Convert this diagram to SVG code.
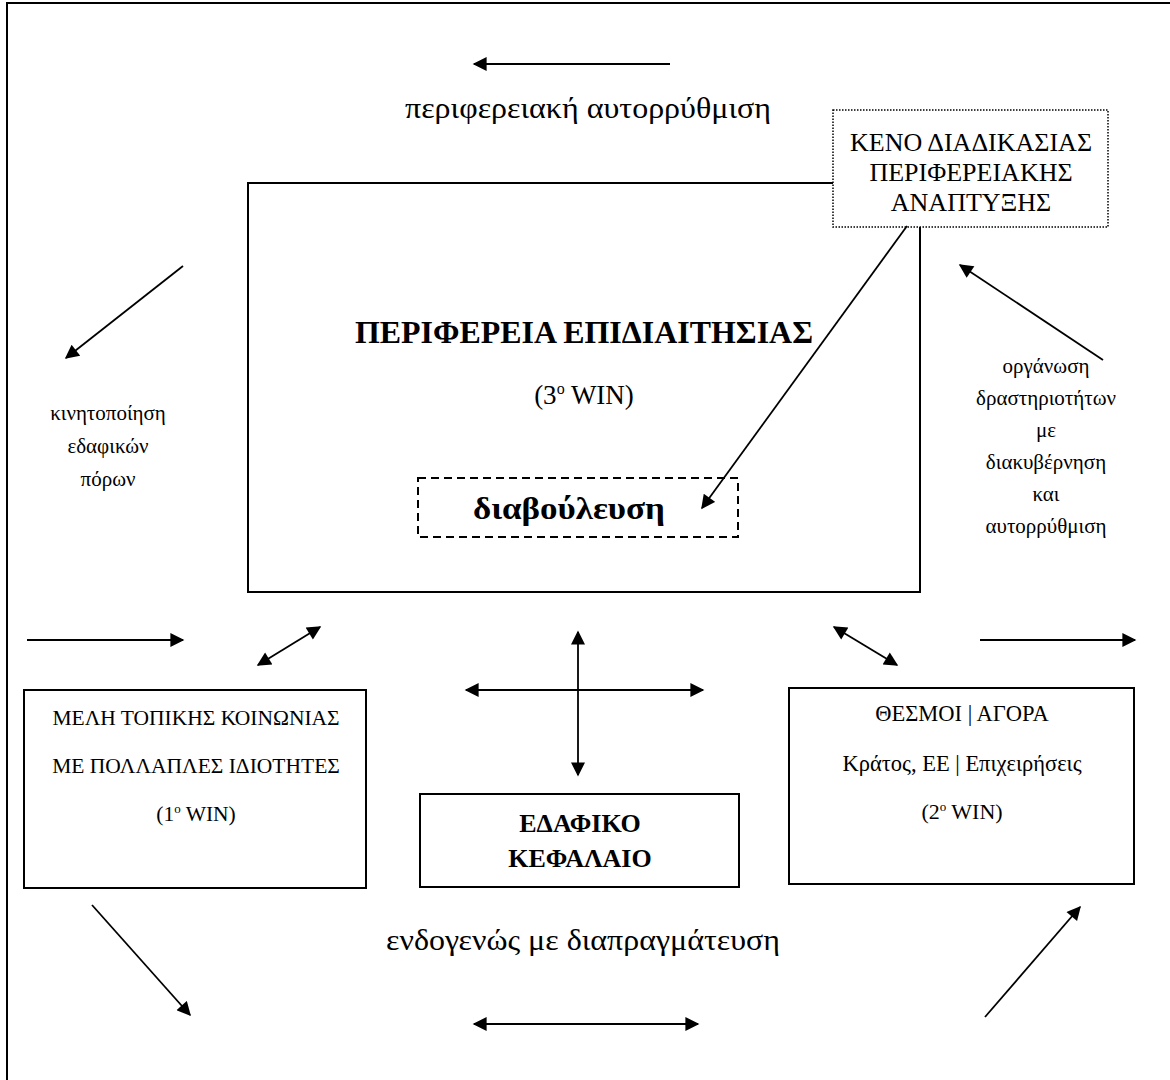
<svg xmlns="http://www.w3.org/2000/svg" width="1170" height="1080" viewBox="0 0 1170 1080">
<style>
text{font-family:"Liberation Serif","Times New Roman",serif;fill:#000;text-anchor:middle}
.box{fill:#fff;stroke:#000;stroke-width:2}
.c{stroke:#000;fill:none}
.b{font-weight:bold}
.bt{font-size:21.5px}
.lab{font-size:21px}
</style>
<defs>
<marker id="ah" viewBox="0 0 10 10" refX="9" refY="5" markerUnits="userSpaceOnUse" markerWidth="16" markerHeight="14" orient="auto-start-reverse"><path d="M0,0 L10,5 L0,10 z" fill="#000"/></marker>
</defs>
<rect x="7" y="3" width="1180" height="1100" fill="none" stroke="#000" stroke-width="2"/>
<g id="n-main"><rect class="box" x="248" y="183" width="672" height="409"/>
<text class="b" x="584" y="343" font-size="32" textLength="458" lengthAdjust="spacingAndGlyphs">ΠΕΡΙΦΕΡΕΙΑ ΕΠΙΔΙΑΙΤΗΣΙΑΣ</text>
<text x="584" y="404" font-size="27">(3<tspan font-size="16" dy="-10">o</tspan><tspan dy="10"> WIN)</tspan></text></g>
<g id="n-diab"><rect x="418" y="478" width="320" height="59" fill="#fff" stroke="#000" stroke-width="2" stroke-dasharray="8,5"/>
<text class="b" x="569" y="519" font-size="31" textLength="192" lengthAdjust="spacingAndGlyphs">διαβούλευση</text></g>
<g id="n-keno"><rect x="833" y="110" width="275" height="117" fill="#fff" stroke="#000" stroke-width="1.5" stroke-dasharray="1.5,1.5"/>
<text x="971" y="151" font-size="26">ΚΕΝΟ ΔΙΑΔΙΚΑΣΙΑΣ</text>
<text x="971" y="181" font-size="26">ΠΕΡΙΦΕΡΕΙΑΚΗΣ</text>
<text x="971" y="211" font-size="26">ΑΝΑΠΤΥΞΗΣ</text></g>
<g id="n-left"><rect class="box" x="24" y="690" width="342" height="198"/>
<text class="bt" x="196" y="725">ΜΕΛΗ ΤΟΠΙΚΗΣ ΚΟΙΝΩΝΙΑΣ</text>
<text class="bt" x="196" y="773">ΜΕ ΠΟΛΛΑΠΛΕΣ ΙΔΙΟΤΗΤΕΣ</text>
<text class="bt" x="196" y="821">(1<tspan font-size="13" dy="-8">o</tspan><tspan dy="8"> WIN)</tspan></text></g>
<g id="n-mid"><rect class="box" x="420" y="794" width="319" height="93"/>
<text class="b" x="580" y="832" font-size="26">ΕΔΑΦΙΚΟ</text>
<text class="b" x="580" y="867" font-size="26">ΚΕΦΑΛΑΙΟ</text></g>
<g id="n-right"><rect class="box" x="789" y="688" width="345" height="196"/>
<text x="962" y="721" font-size="22.5">ΘΕΣΜΟΙ | ΑΓΟΡΑ</text>
<text x="962" y="771" font-size="22.5">Κράτος, ΕΕ | Επιχειρήσεις</text>
<text x="962" y="819" font-size="22">(2<tspan font-size="13" dy="-8">o</tspan><tspan dy="8"> WIN)</tspan></text></g>
<g id="labels">
<text x="588" y="118" font-size="30" textLength="366" lengthAdjust="spacingAndGlyphs">περιφερειακή αυτορρύθμιση</text>
<text class="lab" x="108" y="420">κινητοποίηση</text>
<text class="lab" x="108" y="453">εδαφικών</text>
<text class="lab" x="108" y="486">πόρων</text>
<text class="lab" x="1046" y="373">οργάνωση</text>
<text class="lab" x="1046" y="405">δραστηριοτήτων</text>
<text class="lab" x="1046" y="437">με</text>
<text class="lab" x="1046" y="469">διακυβέρνηση</text>
<text class="lab" x="1046" y="501">και</text>
<text class="lab" x="1046" y="533">αυτορρύθμιση</text>
<text x="583" y="950" font-size="30" textLength="394" lengthAdjust="spacingAndGlyphs">ενδογενώς με διαπραγμάτευση</text>
</g>
<g id="connectors" class="c" stroke-width="1.8">
<line class="c" x1="670" y1="64" x2="474" y2="64" marker-end="url(#ah)"/>
<line class="c" x1="907" y1="226" x2="702" y2="508" marker-end="url(#ah)"/>
<line class="c" x1="183" y1="266" x2="66" y2="358" marker-end="url(#ah)"/>
<line class="c" x1="1103" y1="360" x2="960" y2="265" marker-end="url(#ah)"/>
<line class="c" x1="27" y1="640" x2="183" y2="640" marker-end="url(#ah)"/>
<line class="c" x1="258" y1="665" x2="320" y2="627" marker-start="url(#ah)" marker-end="url(#ah)"/>
<line class="c" x1="466" y1="690" x2="703" y2="690" marker-start="url(#ah)" marker-end="url(#ah)"/>
<line class="c" x1="578" y1="632" x2="578" y2="775" marker-start="url(#ah)" marker-end="url(#ah)"/>
<line class="c" x1="834" y1="627" x2="897" y2="665" marker-start="url(#ah)" marker-end="url(#ah)"/>
<line class="c" x1="980" y1="640" x2="1135" y2="640" marker-end="url(#ah)"/>
<line class="c" x1="92" y1="905" x2="190" y2="1015" marker-end="url(#ah)"/>
<line class="c" x1="474" y1="1024" x2="698" y2="1024" marker-start="url(#ah)" marker-end="url(#ah)"/>
<line class="c" x1="985" y1="1017" x2="1080" y2="907" marker-end="url(#ah)"/>
</g>
</svg>
